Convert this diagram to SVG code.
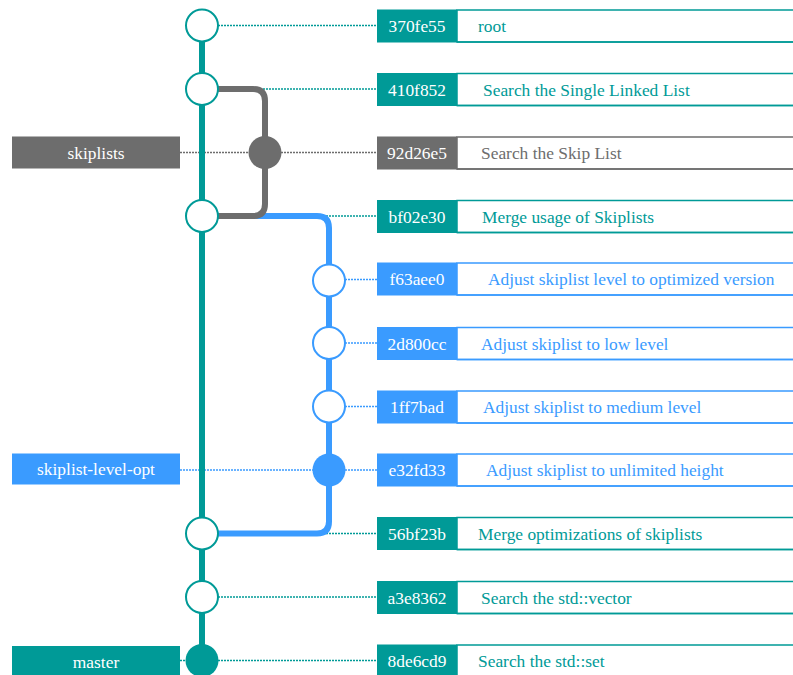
<svg xmlns="http://www.w3.org/2000/svg" width="793" height="675" viewBox="0 0 793 675">
<style>
text{font-family:"Liberation Serif","Times New Roman",serif;font-size:17.4px}
.hash{fill:#fff;text-anchor:middle}
.lbl{fill:#fff;text-anchor:middle}
.t{fill:#009a97;stroke:#009a97}
.g{fill:#6d6d6d;stroke:#6d6d6d}
.b{fill:#3a9bff;stroke:#3a9bff}
.hb{stroke:none}
.msg{fill:#fff;stroke-width:1.5}
.mt{stroke:none}
.dot{fill:none;stroke-width:1.5;stroke-dasharray:2 1}
.line{fill:none;stroke-width:6}
.ring{fill:#fff;stroke-width:2}
.full{stroke:none}
</style>
<g id="connectors">
<line class="dot t" x1="218" y1="25.5" x2="377" y2="25.5"/>
<line class="dot t" x1="218" y1="89" x2="377" y2="89"/>
<line class="dot g" x1="180" y1="152.5" x2="249" y2="152.5"/>
<line class="dot g" x1="281" y1="152.5" x2="377" y2="152.5"/>
<line class="dot t" x1="218" y1="216" x2="377" y2="216"/>
<line class="dot b" x1="345" y1="279.5" x2="377" y2="279.5"/>
<line class="dot b" x1="345" y1="343" x2="377" y2="343"/>
<line class="dot b" x1="345" y1="406.5" x2="377" y2="406.5"/>
<line class="dot b" x1="180" y1="470" x2="313" y2="470"/>
<line class="dot b" x1="345" y1="470" x2="377" y2="470"/>
<line class="dot t" x1="218" y1="533.5" x2="377" y2="533.5"/>
<line class="dot t" x1="218" y1="597" x2="377" y2="597"/>
<line class="dot t" x1="180" y1="660.5" x2="186" y2="660.5"/>
<line class="dot t" x1="218" y1="660.5" x2="377" y2="660.5"/>
<path class="line b" d="M202,216 H317 Q329,216 329,228 V521.5 Q329,533.5 317,533.5 H202"/>
<path class="line g" d="M202,89 H253 Q265,89 265,101 V204 Q265,216 253,216 H202"/>
<line class="line t" x1="202" y1="25.5" x2="202" y2="660.5"/>
</g>
<g id="label-skiplists"><rect class="g full" x="12" y="136.5" width="168" height="32"/><text class="lbl" x="96" y="158.5">skiplists</text></g>
<g id="label-skiplist-level-opt"><rect class="b full" x="12" y="453.5" width="168" height="31"/><text class="lbl" x="96" y="475">skiplist-level-opt</text></g>
<g id="label-master"><rect class="t full" x="12" y="646" width="168" height="32"/><text class="lbl" x="96" y="668">master</text></g>

<g id="c0"><circle class="ring t" cx="202" cy="25.5" r="16"/><rect class="msg t" x="457" y="10" width="345" height="32"/><line class="t" x1="457" y1="42" x2="793" y2="42" stroke-width="1.5"/><rect class="t hb" x="377" y="9.5" width="80" height="33"/><text class="hash" x="417" y="32">370fe55</text><text class="t mt" x="478" y="32">root</text></g>
<g id="c1"><circle class="ring t" cx="202" cy="89" r="16"/><rect class="msg t" x="457" y="73.5" width="345" height="32"/><line class="t" x1="457" y1="105.5" x2="793" y2="105.5" stroke-width="1.5"/><rect class="t hb" x="377" y="73" width="80" height="33"/><text class="hash" x="417" y="95.5">410f852</text><text class="t mt" x="483" y="95.5">Search the Single Linked List</text></g>
<g id="c2"><circle class="g full" cx="265" cy="152.5" r="16.5"/><rect class="msg g" x="457" y="137" width="345" height="32"/><line class="g" x1="457" y1="169" x2="793" y2="169" stroke-width="1.5"/><rect class="g hb" x="377" y="136.5" width="80" height="33"/><text class="hash" x="417" y="159">92d26e5</text><text class="g mt" x="481" y="159">Search the Skip List</text></g>
<g id="c3"><circle class="ring t" cx="202" cy="216" r="16"/><rect class="msg t" x="457" y="200.5" width="345" height="32"/><line class="t" x1="457" y1="232.5" x2="793" y2="232.5" stroke-width="1.5"/><rect class="t hb" x="377" y="200" width="80" height="33"/><text class="hash" x="417" y="222.5">bf02e30</text><text class="t mt" x="482" y="222.5">Merge usage of Skiplists</text></g>
<g id="c4"><circle class="ring b" cx="329" cy="280.5" r="16"/><rect class="msg b" x="457" y="263" width="345" height="32"/><line class="b" x1="457" y1="295" x2="793" y2="295" stroke-width="1.5"/><rect class="b hb" x="377" y="262.5" width="80" height="33"/><text class="hash" x="417" y="285">f63aee0</text><text class="b mt" x="488" y="285">Adjust skiplist level to optimized version</text></g>
<g id="c5"><circle class="ring b" cx="329" cy="343" r="16"/><rect class="msg b" x="457" y="327.5" width="345" height="32"/><line class="b" x1="457" y1="359.5" x2="793" y2="359.5" stroke-width="1.5"/><rect class="b hb" x="377" y="327" width="80" height="33"/><text class="hash" x="417" y="349.5">2d800cc</text><text class="b mt" x="481" y="349.5">Adjust skiplist to low level</text></g>
<g id="c6"><circle class="ring b" cx="329" cy="406.5" r="16"/><rect class="msg b" x="457" y="391" width="345" height="32"/><line class="b" x1="457" y1="423" x2="793" y2="423" stroke-width="1.5"/><rect class="b hb" x="377" y="390.5" width="80" height="33"/><text class="hash" x="417" y="413">1ff7bad</text><text class="b mt" x="483" y="413">Adjust skiplist to medium level</text></g>
<g id="c7"><circle class="b full" cx="329" cy="470" r="16.5"/><rect class="msg b" x="457" y="454" width="345" height="32"/><line class="b" x1="457" y1="486" x2="793" y2="486" stroke-width="1.5"/><rect class="b hb" x="377" y="453.5" width="80" height="33"/><text class="hash" x="417" y="476">e32fd33</text><text class="b mt" x="486" y="476">Adjust skiplist to unlimited height</text></g>
<g id="c8"><circle class="ring t" cx="202" cy="533.5" r="16"/><rect class="msg t" x="457" y="517.5" width="345" height="32"/><line class="t" x1="457" y1="549.5" x2="793" y2="549.5" stroke-width="1.5"/><rect class="t hb" x="377" y="517" width="80" height="33"/><text class="hash" x="417" y="539.5">56bf23b</text><text class="t mt" x="478" y="539.5">Merge optimizations of skiplists</text></g>
<g id="c9"><circle class="ring t" cx="202" cy="597" r="16"/><rect class="msg t" x="457" y="581.5" width="345" height="32"/><line class="t" x1="457" y1="613.5" x2="793" y2="613.5" stroke-width="1.5"/><rect class="t hb" x="377" y="581" width="80" height="33"/><text class="hash" x="417" y="603.5">a3e8362</text><text class="t mt" x="481" y="603.5">Search the std::vector</text></g>
<g id="c10"><circle class="t full" cx="202" cy="660.5" r="16.5"/><rect class="msg t" x="457" y="645" width="345" height="32"/><rect class="t hb" x="377" y="644.5" width="80" height="33"/><text class="hash" x="417" y="667">8de6cd9</text><text class="t mt" x="478" y="667">Search the std::set</text></g>
</svg>
